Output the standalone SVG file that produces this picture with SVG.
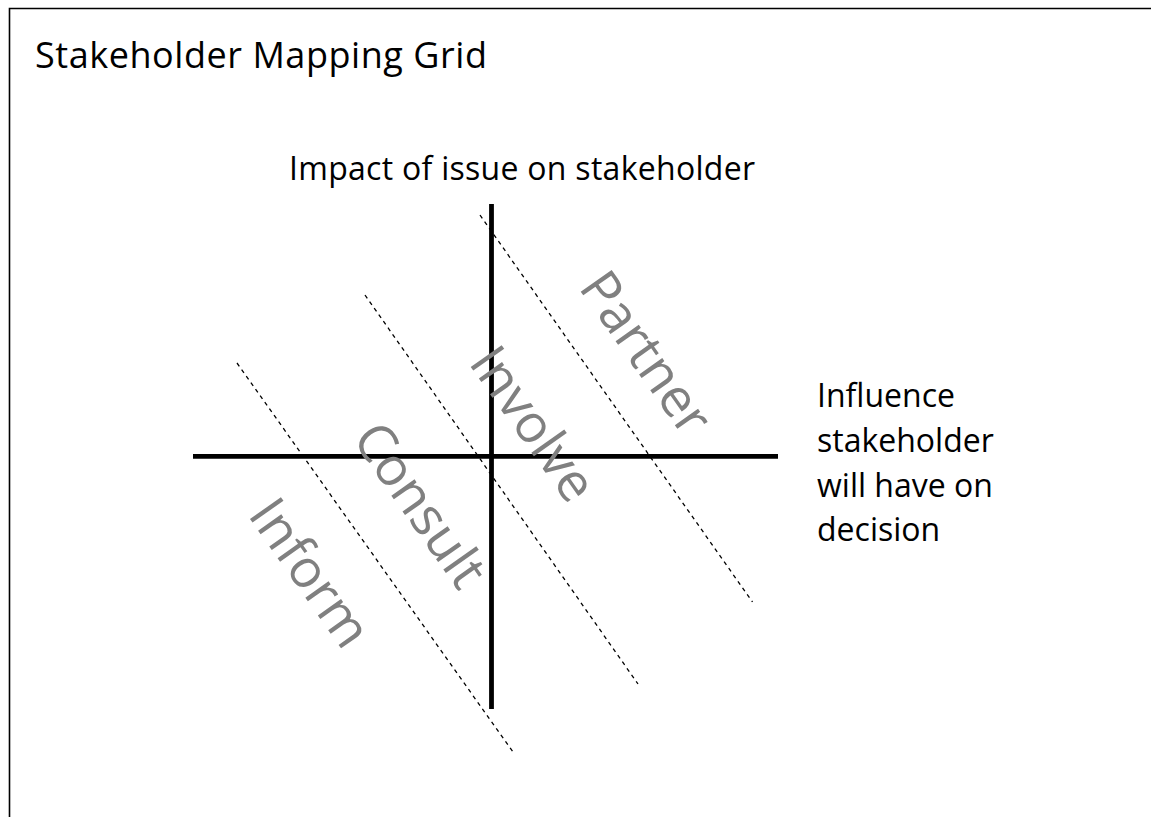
<svg xmlns="http://www.w3.org/2000/svg" width="1151" height="817" viewBox="0 0 1151 817">
  <style>
    .lbl { font-family: "Open Sans", "Noto Sans", "DejaVu Sans", sans-serif; fill: #000; font-size: 32px; }
    .title { font-size: 36px; }
    .band { font-family: "Open Sans", "Noto Sans", "DejaVu Sans", sans-serif; fill: #808080; font-size: 53px; text-anchor: middle; }
    .axis { stroke: #000; stroke-width: 4.8; fill: none; }
    .divider { stroke: #000; stroke-width: 1.3; stroke-dasharray: 4 4; fill: none; }
  </style>
  <rect x="0" y="0" width="1151" height="817" fill="#fff"/>
  <!-- frame, open at right and bottom -->
  <path d="M9.5 817 V8.5 H1151" fill="none" stroke="#000" stroke-width="1.6"/>

  <text class="lbl title" x="35" y="68" textLength="452" lengthAdjust="spacing">Stakeholder Mapping Grid</text>

  <g id="axes">
    <line class="axis" x1="491.5" y1="204" x2="491.5" y2="709"/>
    <line class="axis" x1="193" y1="456.3" x2="778" y2="456.3"/>
  </g>

  <g id="dividers">
    <line class="divider" x1="480" y1="215" x2="752.5" y2="602"/>
    <line class="divider" x1="365" y1="295" x2="638" y2="684"/>
    <line class="divider" x1="237" y1="363" x2="513" y2="752"/>
  </g>

  <g id="axis-labels">
    <text class="lbl" x="289" y="180" textLength="466" lengthAdjust="spacing">Impact of issue on stakeholder</text>
    <text class="lbl" x="817" y="407">Influence</text>
    <text class="lbl" x="817" y="452">stakeholder</text>
    <text class="lbl" x="817" y="497">will have on</text>
    <text class="lbl" x="817" y="541">decision</text>
  </g>

  <g id="band-partner">
    <text class="band" transform="translate(646 353) rotate(54.8)" y="18">Partner</text>
  </g>
  <g id="band-involve">
    <text class="band" transform="translate(533 424) rotate(54.8)" y="18">Involve</text>
  </g>
  <g id="band-consult">
    <text class="band" transform="translate(420 505) rotate(54.8)" y="18">Consult</text>
  </g>
  <g id="band-inform">
    <text class="band" transform="translate(310 573) rotate(54.8)" y="18">Inform</text>
  </g>
</svg>
